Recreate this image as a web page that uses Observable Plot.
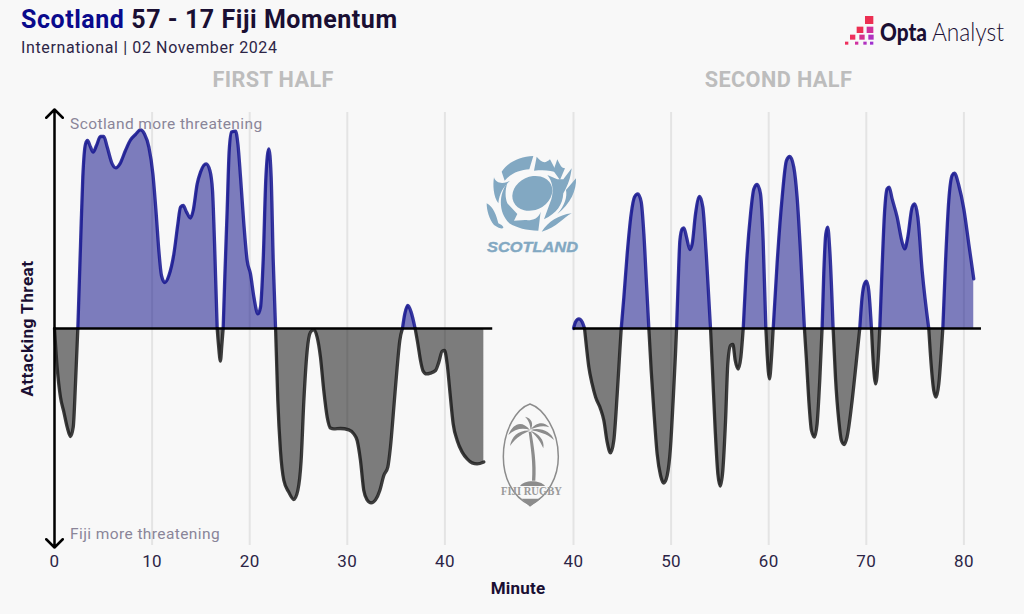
<!DOCTYPE html>
<html>
<head>
<meta charset="utf-8">
<script src="https://cdn.jsdelivr.net/npm/d3@7"></script>
<script src="https://cdn.jsdelivr.net/npm/@observablehq/plot@0.6"></script>
<style>
html,body{margin:0;padding:0;background:#f8f8f8;}
#page{position:relative;width:1024px;height:614px;overflow:hidden;background:#f8f8f8;font-family:Roboto,sans-serif;color:#1a0f33;}
#page>*{position:absolute;}
.title{left:21px;top:5px;font-size:25px;font-weight:700;white-space:nowrap;letter-spacing:.55px;}
.title span{color:#0a0a8c;}
.subtitle{left:21px;top:38px;font-size:16px;color:#2c2546;white-space:nowrap;letter-spacing:.62px;}
.xlabel{left:418px;width:200px;top:578px;text-align:center;font-size:17px;font-weight:700;letter-spacing:.2px;}
svg{overflow:visible;}
svg[class*="plot"] text{letter-spacing:.4px;}
</style>
</head>
<body>
<div id="page">
  <div class="title"><span>Scotland</span> 57 - 17 Fiji Momentum</div>
  <div class="subtitle">International | 02 November 2024</div>
  <div class="xlabel">Minute</div>
</div>
<script>
const firstMinutes = [0,.27,.61,.96,1.3,1.64,1.92,2.15,2.39,2.67,2.9,3.18,3.38,3.69,3.96,4.3,4.71,5.05,5.4,5.91,6.29,6.7,7.27,7.79,8.3,8.81,9.22,9.67,10.08,10.42,10.69,10.96,11.3,11.72,12.23,12.64,12.91,13.19,13.53,13.94,14.21,14.62,14.96,15.54,15.92,16.19,16.4,16.67,16.8,17,17.15,17.28,17.45,17.69,17.9,18.14,18.55,18.79,19.06,19.4,19.74,20.08,20.43,20.84,21.11,21.38,21.66,21.96,22.2,22.41,22.65,22.88,23.15,23.5,24,24.52,24.93,25.27,25.55,25.89,26.23,26.57,26.91,27.25,27.59,27.94,28.28,28.62,29.3,30.16,30.67,31.01,31.35,31.69,32.03,32.44,32.89,33.33,33.74,34.15,34.42,34.77,35.11,35.38,35.65,35.89,36.2,36.54,36.95,37.23,37.5,37.77,38.11,38.52,39.04,39.38,39.72,39.96,40.23,40.5,40.85,41.26,41.77,42.28,42.79,43.3,43.99];
const firstThreat = [0,-19.3,-34.3,-41.8,-49.3,-54,-49.3,-27.7,0,42.3,75.7,92.3,94,90.7,88.2,91.5,96,96,90.7,82.3,80.3,82.3,89,94.3,97,99.3,97.3,90.7,77.3,57.3,39,26.5,23,26.5,37.3,52.3,60.7,61.5,58.2,55.2,59,72.3,78.2,82.3,79,69,42.3,0,-8,-16.3,-8,0,25.7,59,89,98.2,98.7,92.3,75.7,52.3,34,27.3,15.7,7.3,10.7,34,75.7,89.8,75.7,34,0,-36,-61,-76,-81.8,-85.5,-81,-66,-36,-11,-1.8,-.6,-4.3,-14.3,-31,-44.3,-49.8,-50.2,-50,-50.7,-52.7,-56,-66,-81,-85.7,-87.2,-85.7,-81,-73.5,-69.3,-59.3,-39.3,-19.3,-6,0,7.3,11.5,8.2,0,-7.7,-16,-21.3,-22.7,-22.3,-21,-16.8,-11.3,-11,-17.7,-31,-47.7,-56,-61.8,-65.2,-67.2,-67.7,-66.7];

const secondMinutes = [40,40.2,40.55,40.89,41.13,41.33,41.57,41.91,42.26,42.77,43.11,43.45,43.79,44.13,44.48,44.75,44.89,45.16,45.5,45.91,46.25,46.59,46.94,47.21,47.48,47.72,47.96,48.23,48.57,48.92,49.26,49.6,49.94,50.21,50.45,50.56,50.73,50.9,51.14,51.31,51.58,51.92,52.16,52.5,52.91,53.25,53.6,54.04,54.24,54.52,54.79,55.03,55.3,55.58,55.81,56.09,56.33,56.57,56.87,57.15,57.39,57.73,58.14,58.48,58.82,59.16,59.43,59.71,59.84,60.08,60.29,60.46,60.86,61.38,61.82,62.16,62.57,62.91,63.25,63.66,63.87,64.11,64.38,64.69,64.96,65.23,65.47,65.64,65.85,66.05,66.26,66.6,66.84,67.18,67.45,67.73,68.03,68.55,68.99,69.33,69.57,69.81,70.02,70.25,70.53,70.7,70.97,71.21,71.38,71.62,71.86,72.13,72.34,72.65,73.16,73.67,73.94,74.25,74.7,74.97,75.28,75.72,76.4,76.64,76.91,77.15,77.43,77.67,77.84,78.11,78.45,78.79,79.03,79.48,79.99,80.5,81.01];
const secondThreat = [0,3.2,4.8,3.2,0,-9.3,-19.3,-27.7,-34.3,-40.2,-46,-56.8,-62.2,-56,-32.7,-11,0,15.7,37.3,57.3,65.7,67.3,63.2,47.3,22.3,0,-21,-41,-62.7,-73.5,-77.3,-73.5,-59.3,-36,-12.7,0,24,44,49.8,50.3,45.7,39.5,42.3,57.3,66,60.7,37.5,0,-21,-51,-72.7,-78.8,-71,-46,-17.7,-8.5,-8,-16,-20.3,-14.3,0,32.5,57.3,69.8,72,67.3,44,0,-12.7,-25.2,-14.3,0,32.5,65.7,84,86,80.7,65.7,39,0,-16,-36,-51,-54.3,-47.7,-26,0,27.3,47.3,50.7,39,0,-24.3,-46,-56,-58,-54.3,-36,-16,0,15.7,22.3,23.7,19,0,-16,-27.7,-16,0,30.7,57.3,69.8,70.7,64.8,55.7,43.2,39.8,45.7,60.7,62.3,55.7,29,0,-17.7,-31,-34.3,-27.7,-12.7,0,32.5,64,76.5,77.7,71.5,59.8,42.3,24.8];

const firstTicks = [0,10,20,30,40];
const secondTicks = [40,50,60,70,80];
const teams = ["Scotland","Fiji"];
const fillColors = ["#000080","#000000"];
const lineColors = ["#14148f","#1c1c1c"];

function lobes(minutes, threat){
  const rows = [];
  let id = 0, start = 0;
  for (let i = 1; i <= threat.length; i++){
    if (i === threat.length || threat[i] === 0){
      const end = Math.min(i, threat.length - 1);
      const slice = threat.slice(start, end + 1);
      const team = d3.sum(slice) >= 0 ? teams[0] : teams[1];
      for (let j = start; j <= end; j++) rows.push({minute: minutes[j], threat: threat[j], lobe: id, team});
      id++; start = i;
    }
  }
  return rows;
}

const txt = {fontFamily:"Roboto, sans-serif"};

function half({minutes, threat, ticks, xDomain, width, marginLeft, marginRight, zeroEnd, heading, headingX, extra}){
  const rows = lobes(minutes, threat);
  return Plot.plot({
    width, height: 532, marginLeft, marginRight, marginTop: 40, marginBottom: 52,
    style:{background:"transparent", overflow:"visible"},
    x:{domain:xDomain, label:null},
    y:{domain:[-110,110], label:null},
    color:{domain:teams, range:fillColors},
    marks:[
      Plot.ruleX(ticks,{y1:-108.5,y2:108,stroke:"#e4e4e4",strokeWidth:2}),
      Plot.areaY(rows,{x:"minute",y:"threat",z:"lobe",fill:"team",fillOpacity:.5,curve:"monotone-x"}),
      Plot.lineY(rows,{x:"minute",y:"threat",z:"lobe",stroke:d=>lineColors[teams.indexOf(d.team)],strokeWidth:3.3,strokeOpacity:.85,curve:"monotone-x"}),
      Plot.ruleY([0],{x1:xDomain[0],x2:zeroEnd,stroke:"#000",strokeWidth:2.5}),
      Plot.axisX({ticks,tickSize:0,tickPadding:6,fontSize:17,label:null,fill:"#2c2546",...txt}),
      Plot.axisY({ticks:[],label:null}),
      Plot.text([heading],{x:headingX,y:124,fontSize:21.7,fontWeight:700,fill:"#bdbdbd",...txt}),
      ...extra
    ]
  });
}

const firstPlot = half({
  minutes:firstMinutes, threat:firstThreat, ticks:firstTicks, xDomain:[0,45],
  width:512, marginLeft:54, marginRight:18.8, zeroEnd:44.9,
  heading:"FIRST HALF", headingX:22.4,
  extra:[
    Plot.arrow([{y2:109.5},{y2:-109.5}],{x1:0,y1:0,x2:0,y2:"y2",stroke:"#000",strokeWidth:2.5,headLength:7,headAngle:90,bend:0}),
    Plot.text(["Scotland more threatening"],{x:1.6,y:102,textAnchor:"start",fontSize:15.5,fill:"#8a8598",...txt}),
    Plot.text(["Fiji more threatening"],{x:1.6,y:-103,textAnchor:"start",fontSize:15.5,fill:"#8a8598",...txt}),
    Plot.text(["Attacking Threat"],{x:0,y:0,dx:-27,rotate:-90,fontSize:17.3,fontWeight:700,fill:"#1a0f33",...txt})
  ]
});
const secondPlot = half({
  minutes:secondMinutes, threat:secondThreat, ticks:secondTicks, xDomain:[40,82],
  width:512, marginLeft:61, marginRight:41.08, zeroEnd:81.8,
  heading:"SECOND HALF", headingX:61, extra:[]
});

const page = document.getElementById("page");
firstPlot.style.cssText += ";position:absolute;left:0;top:68px;";
secondPlot.style.cssText += ";position:absolute;left:512px;top:68px;";
page.append(firstPlot, secondPlot);

// Logos, drawn over the chart
const logos = document.createElement("div");
logos.style.cssText = "left:0;top:0;width:1024px;height:614px;pointer-events:none;";
logos.innerHTML = `
<svg width="1024" height="614" viewBox="0 0 1024 614" xmlns="http://www.w3.org/2000/svg">
  <!-- Opta Analyst -->
  <g transform="translate(800,0) scale(.3333)">
    <rect x="195" y="48" width="25" height="24" fill="#ec2f52"/>
    <rect x="170" y="80" width="20" height="19" fill="#ec2f52"/>
    <rect x="200" y="80" width="20" height="19" fill="#d1309a"/>
    <rect x="150" y="104" width="16" height="15" fill="#ee2f5c"/>
    <rect x="178" y="104" width="16" height="15" fill="#d33090"/>
    <rect x="205" y="104" width="16" height="15" fill="#b030c0"/>
    <rect x="135" y="125" width="10" height="9" fill="#ee2f5c"/>
    <rect x="165" y="125" width="10" height="9" fill="#d030a0"/>
    <rect x="190" y="125" width="10" height="9" fill="#b030c0"/>
    <rect x="210" y="125" width="10" height="9" fill="#a030d0"/>
  </g>
  <text x="880" y="41" font-family="Lato, sans-serif" font-size="25" font-weight="900" fill="#1a0f33" textLength="47" lengthAdjust="spacingAndGlyphs">Opta</text>
  <text x="932" y="41" font-family="Lato, sans-serif" font-size="25" font-weight="300" fill="#1a0f33" textLength="72" lengthAdjust="spacingAndGlyphs">Analyst</text>

  <!-- Scotland -->
  <g transform="translate(470,140) scale(.3333)" fill="#82a8c2">
    <ellipse cx="187" cy="160" rx="62" ry="50" transform="rotate(-25 187 160)"/>
    <path d="M95,95 C115,65 150,50 190,48 L178,88 C150,90 122,100 104,122 Z"/>
    <path d="M200,50 C215,68 225,72 240,58 L262,100 C245,90 220,90 192,92 Z"/>
    <path d="M262,58 C270,75 275,85 285,85 L270,120 L250,92 Z"/>
    <path d="M305,85 C302,112 295,135 280,160 C278,195 260,220 222,238 L244,178 C252,150 248,125 232,105 L262,118 L280,118 Z"/>
    <path d="M318,115 C320,150 302,192 262,222 C285,195 292,170 288,150 Z"/>
    <path d="M305,220 C280,232 262,262 215,275 C235,245 265,225 305,220 Z"/>
    <path d="M112,128 C88,160 82,215 118,250 C140,264 170,272 205,272 L212,215 C205,238 185,242 165,240 L132,242 L142,222 L112,190 C104,170 106,148 112,128 Z"/>
    <path d="M72,112 C78,135 108,130 120,122 C100,140 88,160 85,190 C70,170 68,135 72,112 Z"/>
    <path d="M50,190 C70,200 80,228 85,250 C112,262 100,275 72,255 C58,238 50,212 50,190 Z"/>
  </g>
  <text x="487" y="252" font-family="'Liberation Sans', sans-serif" font-size="15.5" font-weight="700" font-style="italic" fill="#82a8c2" textLength="91" lengthAdjust="spacingAndGlyphs" stroke="#82a8c2" stroke-width=".4">SCOTLAND</text>

  <!-- Fiji Rugby -->
  <g transform="translate(480,390) scale(.3333)" fill="#8c8c8c">
    <path d="M150,42 C110,55 70,120 70,200 C70,260 95,320 150,345 C205,320 235,260 235,200 C235,120 190,55 150,42 Z" fill="none" stroke="#8c8c8c" stroke-width="4.5"/>
    <path d="M146,125 C152,170 160,220 156,272 L166,272 C170,220 162,170 154,125 Z"/>
    <path d="M150,120 C125,90 100,100 85,135 C105,115 130,112 150,120 Z"/>
    <path d="M150,122 C115,120 95,140 90,168 C110,140 130,130 150,122 Z"/>
    <path d="M152,120 C150,100 145,90 135,80 C155,85 162,100 152,120 Z"/>
    <path d="M152,118 C165,100 190,90 208,112 C190,105 170,110 152,118 Z"/>
    <path d="M152,120 C180,110 215,125 222,150 C200,130 175,125 152,120 Z"/>
    <path d="M152,122 C175,130 195,150 190,175 C180,150 165,135 152,122 Z"/>
    <path d="M120,288 C130,270 180,268 195,288 Z"/>
    <path d="M125,326 L182,326 L150,350 Z"/>
  </g>
  <text x="501" y="495" font-family="'Liberation Serif', serif" font-size="12.5" font-weight="700" fill="#9a9a9a" textLength="61" lengthAdjust="spacingAndGlyphs">FIJI RUGBY</text>
</svg>`;
page.append(logos);
</script>
</body>
</html>
